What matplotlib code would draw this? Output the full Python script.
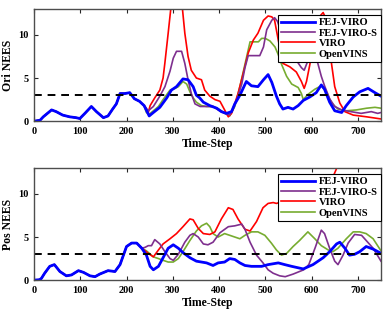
import numpy as np
import matplotlib
matplotlib.use("Agg")
import matplotlib.pyplot as plt

# shared part of all runs (before the filters diverge)
common_t_ori = [0, 13, 20, 38, 48, 62, 77, 91, 99, 110, 124, 135, 150, 160, 170, 178, 186, 196, 207, 217, 228, 238]
common_ori = [0, 0.1, 0.5, 1.3, 1.1, 0.7, 0.5, 0.4, 0.3, 0.9, 1.7, 1.1, 0.4, 0.6, 1.4, 2.0, 3.2, 3.2, 3.3, 2.6, 2.3, 1.8]

common_t_pos = [0, 12, 16, 23, 34, 44, 56, 70, 81, 96, 107, 121, 132, 142, 160, 175, 186, 200, 211, 222, 233]
common_pos = [0, 0.05, 0.2, 0.8, 1.6, 1.8, 1.0, 0.5, 0.6, 1.1, 0.9, 0.5, 0.4, 0.7, 1.1, 1.0, 1.8, 3.9, 4.3, 4.3, 3.7]

# orientation NEES
fej_t_ori = [249, 258, 272, 287, 297, 308, 322, 333, 344, 351, 358, 366, 380, 395, 405, 416, 427, 434, 445, 459, 470, 484,
             496, 506, 514, 524, 531, 538, 549, 560, 571, 582, 596, 610, 621, 628, 639, 650, 665, 675, 690, 704, 722, 737, 750]
fej_ori = [0.6, 1.0, 1.6, 2.7, 3.6, 4.0, 4.9, 4.8, 4.0, 3.0, 2.7, 2.2, 1.8, 1.5, 1.1, 0.9, 1.1, 2.0, 3.0, 4.6, 4.1, 4.0,
           4.8, 5.4, 4.5, 2.9, 2.0, 1.4, 1.6, 1.4, 1.8, 2.4, 2.8, 3.3, 4.2, 3.7, 2.2, 1.2, 1.0, 1.8, 2.8, 3.4, 3.8, 3.3, 2.9]

fejs_t_ori = [247, 258, 272, 283, 294, 301, 308, 319, 326, 333, 340, 348, 359, 373, 387, 398, 412, 423, 438, 449, 456, 463,
              474, 488, 496, 503, 514, 520, 526, 540, 560, 578, 584, 592, 612, 621, 628, 639, 650, 665, 685, 707, 729, 743, 750]
fejs_ori = [1.2, 1.7, 2.9, 4.0, 5.8, 7.3, 8.1, 8.1, 6.7, 4.8, 3.2, 2.0, 1.7, 1.7, 1.7, 1.3, 0.9, 0.7, 2.4, 4.3, 6.2, 7.6,
            7.6, 7.6, 8.6, 10.6, 11.7, 12.0, 11.6, 9.5, 7.6, 6.2, 5.9, 7.0, 7.0, 5.2, 4.1, 2.6, 1.7, 1.3, 1.1, 0.9, 1.1, 0.9, 1.0]

viro_t_ori = [240, 247, 251, 261, 272, 279, 283, 290, 296, 305, 312, 320, 326, 333, 340, 351, 362, 369, 380, 391, 402,
              412, 420, 427, 441, 452, 463, 474, 484, 496, 506, 514, 520, 528, 538, 553, 567, 578, 584, 589, 596, 605,
              615, 625, 634, 643, 650, 661, 672, 690, 719, 744, 750]
viro_ori = [1.7, 1.0, 1.8, 2.7, 3.6, 5.0, 6.8, 10.2, 13.2, 14.5, 15.0, 13.5, 10.2, 7.5, 5.9, 5.0, 4.8, 3.6, 2.9, 2.5, 2.3,
            1.3, 0.5, 0.9, 3.2, 5.5, 7.9, 9.4, 10.2, 11.7, 12.2, 12.1, 11.7, 9.4, 6.7, 6.3, 5.7, 4.6, 3.8, 4.6, 6.5, 9.5,
            12.0, 12.6, 11.5, 6.7, 4.0, 2.1, 1.1, 0.7, 0.5, 0.3, 0.25]

ovins_t_ori = [243, 249, 258, 269, 279, 294, 305, 312, 322, 330, 337, 344, 351, 362, 373, 387, 402, 416, 423, 434, 445,
               456, 467, 474, 485, 492, 500, 510, 521, 528, 535, 546, 557, 571, 578, 582, 592, 607, 621, 632, 643, 657,
               675, 697, 719, 737, 750]
ovins_ori = [1.0, 0.8, 1.2, 1.7, 2.5, 3.6, 3.8, 4.0, 4.6, 4.3, 3.4, 2.7, 2.2, 1.8, 1.7, 1.7, 1.3, 0.8, 0.6, 1.7, 4.0,
             6.6, 9.2, 9.2, 9.2, 9.6, 9.6, 9.3, 8.6, 7.7, 6.6, 5.2, 4.3, 3.9, 3.2, 2.5, 3.1, 3.7, 4.1, 3.4, 2.1, 1.4,
             1.2, 1.3, 1.5, 1.6, 1.5]

# position NEES
fej_t_pos = [243, 251, 258, 269, 279, 290, 301, 312, 322, 337, 351, 373, 387, 398, 412, 423, 434, 445, 456, 470, 492, 506,
             528, 542, 557, 582, 603, 625, 639, 654, 661, 672, 682, 693, 704, 718, 733, 747, 750]
fej_pos = [2.9, 1.6, 1.2, 1.6, 2.6, 3.7, 4.1, 3.7, 3.2, 2.6, 2.2, 2.0, 1.7, 2.0, 2.1, 2.5, 2.4, 2.0, 1.7, 1.6, 1.6, 1.8,
           2.0, 1.8, 1.6, 1.3, 1.8, 2.6, 3.3, 4.2, 4.4, 3.7, 2.9, 3.0, 3.3, 3.9, 3.6, 3.2, 3.1]

fejs_t_pos = [240, 247, 254, 261, 272, 283, 294, 301, 312, 326, 337, 344, 355, 366, 376, 387, 402, 420, 434, 449, 456, 467,
              481, 495, 506, 517, 531, 543, 560, 583, 594, 608, 621, 628, 639, 650, 657, 668, 679, 693, 708, 718, 733, 750]
fejs_pos = [3.8, 4.0, 4.0, 4.7, 4.2, 3.3, 2.5, 2.3, 3.0, 4.4, 5.2, 5.4, 5.0, 4.2, 4.1, 4.4, 5.5, 6.2, 6.3, 6.5, 5.9, 4.4,
            2.9, 2.0, 1.2, 0.8, 0.5, 0.4, 0.7, 1.2, 1.8, 3.8, 5.8, 5.4, 3.7, 2.2, 1.8, 2.9, 4.3, 5.3, 5.2, 4.6, 3.7, 2.2]

viro_t_pos = [240, 247, 258, 269, 279, 294, 308, 322, 337, 344, 355, 366, 380, 391, 405, 420, 430, 441, 456, 467, 481,
              495, 506, 517, 524, 560, 600, 630, 648, 656, 670]
viro_pos = [3.4, 3.1, 2.7, 3.5, 4.2, 4.8, 5.4, 6.2, 7.1, 7.0, 6.0, 5.4, 5.3, 5.6, 7.1, 8.4, 8.2, 7.1, 5.9, 5.7, 6.8,
            8.4, 8.9, 9.0, 8.9, 9.5, 10.5, 11.5, 12.2, 13.2, 15.0]

ovins_t_pos = [243, 258, 269, 279, 290, 301, 312, 322, 337, 351, 362, 373, 380, 387, 398, 412, 423, 434, 445, 456, 470,
               484, 499, 513, 524, 535, 546, 560, 574, 592, 607, 621, 636, 646, 657, 675, 690, 704, 718, 733, 750]
ovins_pos = [3.4, 2.7, 2.5, 2.3, 2.1, 2.1, 2.5, 3.3, 4.6, 5.7, 6.3, 6.6, 6.2, 5.4, 5.0, 5.4, 5.2, 5.0, 4.8, 5.2, 5.6,
             5.6, 5.2, 4.3, 3.5, 2.9, 3.1, 3.9, 4.6, 5.6, 4.8, 4.0, 3.5, 3.3, 3.7, 4.8, 5.6, 5.6, 5.4, 4.8, 3.4]

labels = ["FEJ-VIRO", "FEJ-VIRO-S", "VIRO", "OpenVINS"]
colors = ["#0000FF", "#7E2F8E", "#FF0000", "#77AC30"]
widths = [2.0, 1.2, 1.2, 1.2]
threshold = 3

plt.rcParams['font.family'] = ['Liberation Serif', 'DejaVu Serif']
plt.rcParams['font.weight'] = 'bold'

fig = plt.figure(figsize=(3.89, 3.13), dpi=100)
ax1 = fig.add_axes([0.0874, 0.613, 0.892, 0.358])
ax2 = fig.add_axes([0.0874, 0.105, 0.892, 0.358])

panels = [
    (ax1, common_t_ori, common_ori,
     [(fej_t_ori, fej_ori), (fejs_t_ori, fejs_ori), (viro_t_ori, viro_ori), (ovins_t_ori, ovins_ori)], "Ori NEES"),
    (ax2, common_t_pos, common_pos,
     [(fej_t_pos, fej_pos), (fejs_t_pos, fejs_pos), (viro_t_pos, viro_pos), (ovins_t_pos, ovins_pos)], "Pos NEES"),
]

for ax, ct, cv, series, ylab in panels:
    # draw back to front so blue ends up on top like the original
    order = [3, 2, 1, 0]
    handles = {}
    for i in order:
        t, v = series[i]
        ln, = ax.plot(list(ct) + list(t), list(cv) + list(v), color=colors[i], lw=widths[i], label=labels[i],
                      solid_joinstyle='round')
        handles[i] = ln
    ax.axhline(threshold, color='black', ls=(0, (4, 3)), lw=1.4)
    ax.set_xlim(0, 750)
    ax.set_ylim(0, 13)
    ax.set_xticks(range(0, 701, 100))
    ax.set_yticks([0, 5, 10])
    ax.tick_params(direction='in', top=True, right=True, length=3, width=0.8, labelsize=7.5, pad=4,
                   colors='#262626', labelcolor='black')
    for s in ax.spines.values():
        s.set_color('#4d4d4d')
        s.set_linewidth(1.0)
    ax.set_xlabel("Time-Step", fontsize=8.5, fontweight='bold', labelpad=2)
    ax.set_ylabel(ylab, fontsize=8.5, fontweight='bold', labelpad=3)
    leg = ax.legend([handles[i] for i in range(4)], labels, loc='upper right', bbox_to_anchor=(1.0, 0.95),
                    borderaxespad=0, fontsize=7.6, handlelength=3.2, handletextpad=0.4, labelspacing=0.1,
                    borderpad=0.3, fancybox=False, framealpha=1, edgecolor='black')
    leg.get_frame().set_linewidth(0.8)

fig.savefig("out.png", dpi=100, facecolor='white')
